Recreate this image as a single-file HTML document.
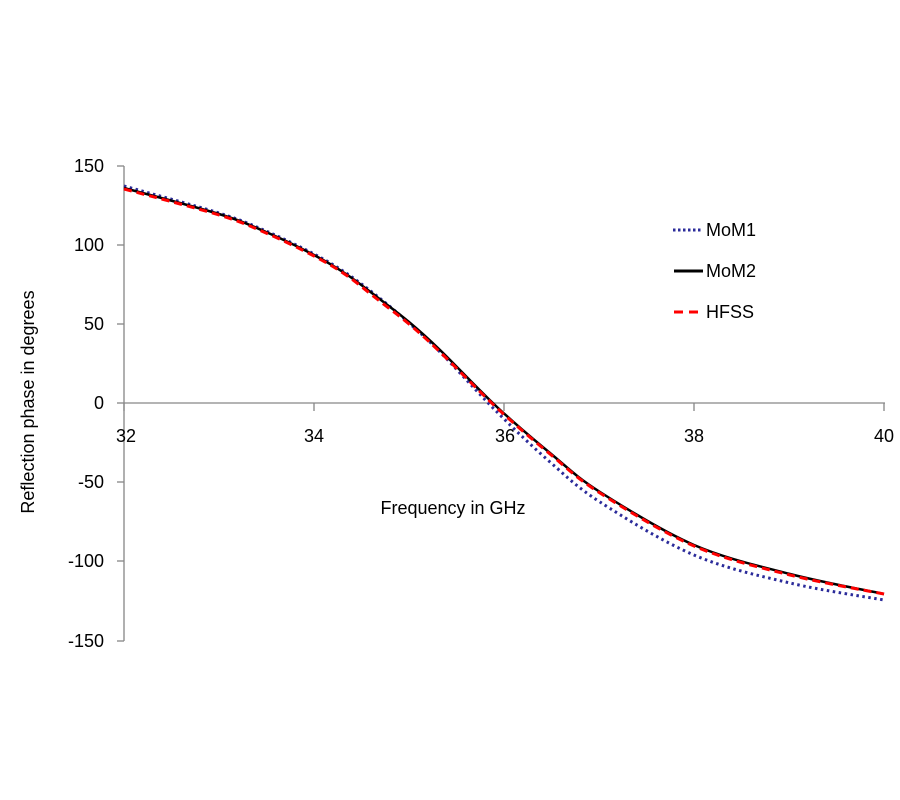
<!DOCTYPE html>
<html><head><meta charset="utf-8"><style>
html,body{margin:0;padding:0;background:#fff;}
svg{display:block;font-family:"Liberation Sans","DejaVu Sans",sans-serif;}
</style></head><body>
<svg id="s" width="900" height="800" viewBox="0 0 900 800" xmlns="http://www.w3.org/2000/svg">
<g stroke="#868686" stroke-width="1.3" fill="none">
<line x1="124" y1="166" x2="124" y2="641"/>
<line x1="117" y1="166" x2="124" y2="166"/>
<line x1="117" y1="245" x2="124" y2="245"/>
<line x1="117" y1="324" x2="124" y2="324"/>
<line x1="117" y1="403" x2="124" y2="403"/>
<line x1="117" y1="482" x2="124" y2="482"/>
<line x1="117" y1="561" x2="124" y2="561"/>
<line x1="117" y1="641" x2="124" y2="641"/>
<line x1="124" y1="403" x2="885" y2="403"/>
<line x1="124" y1="403" x2="124" y2="411"/>
<line x1="314" y1="403" x2="314" y2="411"/>
<line x1="504" y1="403" x2="504" y2="411"/>
<line x1="694" y1="403" x2="694" y2="411"/>
<line x1="884" y1="403" x2="884" y2="411"/>
</g>
<g font-size="18" fill="#000" text-anchor="end">
<text x="104" y="172">150</text>
<text x="104" y="251">100</text>
<text x="104" y="330">50</text>
<text x="104" y="409">0</text>
<text x="104" y="488">-50</text>
<text x="104" y="567">-100</text>
<text x="104" y="647">-150</text>
</g>
<g font-size="18" fill="#000" text-anchor="middle">
<text x="126" y="442">32</text>
<text x="314" y="442">34</text>
<text x="505" y="442">36</text>
<text x="694" y="442">38</text>
<text x="884" y="442">40</text>
<text x="453" y="514">Frequency in GHz</text>
</g>
<text transform="translate(34,402) rotate(-90)" font-size="18" text-anchor="middle">Reflection phase in degrees</text>
<path id="p1" fill="none" stroke="#2b2b9a" stroke-width="3" stroke-dasharray="2.5,3.5"/>
<path id="p2" fill="none" stroke="#000" stroke-width="2.5"/>
<path id="p3" fill="none" stroke="#ff0000" stroke-width="3" stroke-dasharray="8,5"/>
<line x1="673" y1="230" x2="702" y2="230" stroke="#2b2b9a" stroke-width="3" stroke-dasharray="2.5,2.5"/>
<line x1="674" y1="271" x2="703" y2="271" stroke="#000" stroke-width="3"/>
<line x1="674" y1="312" x2="703" y2="312" stroke="#ff0000" stroke-width="3" stroke-dasharray="9,6"/>
<g font-size="18" fill="#000">
<text x="706" y="236">MoM1</text>
<text x="706" y="277">MoM2</text>
<text x="706" y="318">HFSS</text>
</g>
</svg>
<script>
function cr(p){var d="M"+p[0][0]+","+p[0][1];for(var i=0;i<p.length-1;i++){var a=p[i-1]||p[i],b=p[i],c=p[i+1],e=p[i+2]||c;
d+=" C"+(b[0]+(c[0]-a[0])/6).toFixed(1)+","+(b[1]+(c[1]-a[1])/6).toFixed(1)+" "+(c[0]-(e[0]-b[0])/6).toFixed(1)+","+(c[1]-(e[1]-b[1])/6).toFixed(1)+" "+c[0]+","+c[1];}return d;}
var m2=[[124,188],[219,214],[266,232],[314,255],[346,274],[377,297],[409,322],[440,350],[497,407],[550,453],[600,492],[694,545],[790,574],[884,594]];
var m1=[[124,186],[219,213],[266,231],[314,254],[346,273],[377,296],[409,323],[440,352],[497,412],[550,462],[600,502],[694,555],[790,583],[884,600]];
var h=[[124,189],[219,215],[266,233],[314,256],[346,275],[377,299],[409,324],[440,352],[497,408],[550,454],[600,493],[694,546],[790,575],[884,594]];
document.getElementById("p1").setAttribute("d",cr(m1));
document.getElementById("p2").setAttribute("d",cr(m2));
document.getElementById("p3").setAttribute("d",cr(h));
</script>
</body></html>
